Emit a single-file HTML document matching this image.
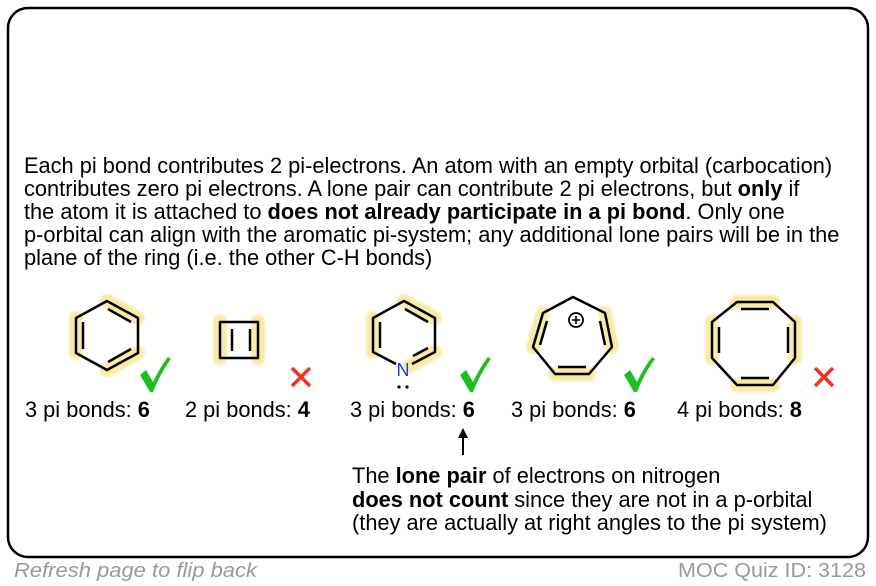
<!DOCTYPE html>
<html><head><meta charset="utf-8"><style>
html,body{margin:0;padding:0;background:#fff;}
svg{display:block;font-family:"Liberation Sans",Arial,sans-serif;}
</style></head><body>
<svg width="876" height="586" viewBox="0 0 876 586" xmlns="http://www.w3.org/2000/svg">
<defs><filter id="b" x="-20%" y="-20%" width="140%" height="140%"><feGaussianBlur stdDeviation="1"/></filter></defs>
<rect x="8" y="8" width="860" height="549" rx="20" ry="20" fill="#fff" stroke="#000" stroke-width="2.5"/>
<g font-size="21.8" fill="#000">
<text x="24" y="173">Each pi bond contributes 2 pi-electrons. An atom with an empty orbital (carbocation)</text>
<text x="24" y="196">contributes zero pi electrons. A lone pair can contribute 2 pi electrons, but <tspan font-weight="bold">only</tspan> if</text>
<text x="24" y="219">the atom it is attached to <tspan font-weight="bold">does not already participate in a pi bond</tspan>. Only one</text>
<text x="24" y="242">p-orbital can align with the aromatic pi-system; any additional lone pairs will be in the</text>
<text x="24" y="265">plane of the ring (i.e. the other C-H bonds)</text>
</g>
<g stroke="#f8eba8" stroke-width="14" stroke-linecap="round" fill="none" filter="url(#b)">
<line x1="76" y1="318" x2="76" y2="353"/>
<line x1="107" y1="301" x2="138" y2="318"/>
<line x1="138" y1="353" x2="107" y2="370"/>
<line x1="220" y1="322" x2="220" y2="358"/>
<line x1="258" y1="322" x2="258" y2="358"/>
<line x1="373" y1="318" x2="373" y2="352"/>
<line x1="404" y1="301" x2="435" y2="318"/>
<line x1="435" y1="352" x2="410" y2="366"/>
<line x1="543" y1="313" x2="533" y2="347"/>
<line x1="605" y1="313" x2="612" y2="347"/>
<line x1="555" y1="374" x2="589" y2="374"/>
<line x1="737" y1="302" x2="773" y2="302"/>
<line x1="795" y1="322" x2="795" y2="358"/>
<line x1="737" y1="385" x2="773" y2="385"/>
<line x1="712" y1="322" x2="712" y2="358"/>
</g>
<g stroke="#000" stroke-width="2.5" fill="none" stroke-linejoin="round">
<polygon points="107,301 138,318 138,353 107,370 76,353 76,318"/>
<line x1="83" y1="322" x2="83" y2="349"/>
<line x1="108" y1="309" x2="131" y2="322"/>
<line x1="131" y1="349" x2="108" y2="362"/>
<rect x="220" y="322" width="38" height="36"/>
<line x1="232" y1="329" x2="232" y2="351"/>
<line x1="250" y1="329" x2="250" y2="351"/>
<polyline points="396,364 373,352 373,318 404,301 435,318 435,352 412,364"/>
<line x1="380" y1="322" x2="380" y2="348"/>
<line x1="405" y1="309" x2="428" y2="322"/>
<line x1="428" y1="348" x2="413" y2="356"/>
<polygon points="573,297 605,313 612,347 589,374 555,374 533,347 543,313"/>
<line x1="547" y1="321" x2="540" y2="345"/>
<line x1="600" y1="321" x2="605" y2="345"/>
<line x1="558" y1="367" x2="586" y2="367"/>
<circle cx="576" cy="320" r="7" stroke-width="1.8"/>
<line x1="572" y1="320" x2="580" y2="320" stroke-width="1.6"/>
<line x1="576" y1="316" x2="576" y2="324" stroke-width="1.6"/>
<polygon points="737,302 773,302 795,322 795,358 773,385 737,385 712,358 712,322"/>
<line x1="741" y1="309" x2="769" y2="309"/>
<line x1="788" y1="327" x2="788" y2="353"/>
<line x1="741" y1="378" x2="769" y2="378"/>
<line x1="719" y1="327" x2="719" y2="353"/>
</g>
<text x="403" y="376" font-size="18" fill="#1a3fe0" text-anchor="middle">N</text>
<circle cx="399" cy="387" r="1.6" fill="#000"/><circle cx="407" cy="387" r="1.6" fill="#000"/>
<g fill="#1fbf1f">
<path d="M140,375 L146,370 L153,382 Q160,367 168,357 L171,359 Q161,372 153,392 L150,392 Z"/>
<path d="M460,375 L466,370 L473,382 Q480,367 488,357 L491,359 Q481,372 473,392 L470,392 Z"/>
<path d="M624,375 L630,370 L637,382 Q644,367 652,357 L655,359 Q645,372 637,392 L634,392 Z"/>
</g>
<g stroke="#f0321e" stroke-width="3.5">
<line x1="292" y1="368" x2="310" y2="386"/><line x1="310" y1="368" x2="292" y2="386"/>
<line x1="815" y1="368" x2="833" y2="386"/><line x1="833" y1="368" x2="815" y2="386"/>
</g>
<g font-size="21.8">
<text x="25" y="417">3 pi bonds: <tspan font-weight="bold">6</tspan></text>
<text x="185" y="417">2 pi bonds: <tspan font-weight="bold">4</tspan></text>
<text x="350" y="417">3 pi bonds: <tspan font-weight="bold">6</tspan></text>
<text x="511" y="417">3 pi bonds: <tspan font-weight="bold">6</tspan></text>
<text x="677" y="417">4 pi bonds: <tspan font-weight="bold">8</tspan></text>
</g>
<line x1="463" y1="455" x2="463" y2="434" stroke="#000" stroke-width="2"/>
<polygon points="463,428 458,438 468,438" fill="#000"/>
<g font-size="21.8">
<text x="352" y="483">The <tspan font-weight="bold">lone pair</tspan> of electrons on nitrogen</text>
<text x="352" y="507"><tspan font-weight="bold">does not count</tspan> since they are not in a p-orbital</text>
<text x="352" y="530">(they are actually at right angles to the pi system)</text>
</g>
<text x="14" y="577" font-size="20" font-style="italic" fill="#999" textLength="243" lengthAdjust="spacingAndGlyphs">Refresh page to flip back</text>
<text x="866" y="577" font-size="20" fill="#999" text-anchor="end" textLength="188" lengthAdjust="spacingAndGlyphs">MOC Quiz ID: 3128</text>
</svg>
</body></html>
